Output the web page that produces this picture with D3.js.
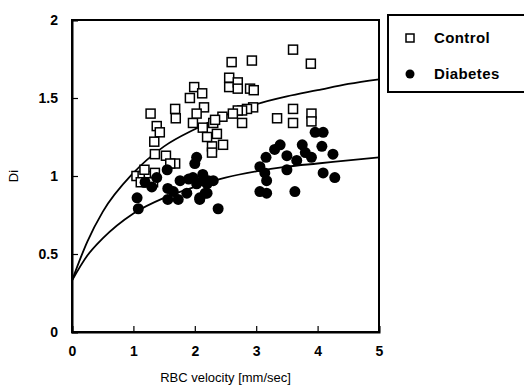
<!DOCTYPE html>
<html>
<head>
<meta charset="utf-8">
<script src="https://cdn.jsdelivr.net/npm/d3@7"></script>
<style>
  body { margin: 0; background: #fff; }
  svg { font-family: "Liberation Sans", Arial, sans-serif; }
</style>
</head>
<body>
<div id="chart"></div>
<script>
// control group: [RBC velocity, Di]
const controlPoints = [
  [2.6, 1.73], [2.56, 1.63], [2.56, 1.57], [1.99, 1.57], [2.12, 1.53], [1.92, 1.5],
  [2.15, 1.44], [1.68, 1.43], [1.28, 1.4], [1.69, 1.37], [1.38, 1.32], [1.43, 1.28],
  [1.34, 1.22], [1.35, 1.14], [1.53, 1.13], [1.68, 1.08], [1.97, 1.34], [2.13, 1.31],
  [2.3, 1.34], [2.36, 1.27], [2.46, 1.2], [2.28, 1.19], [2.28, 1.15], [2.2, 1.25],
  [2.03, 1.4], [3.6, 1.81], [3.89, 1.72], [2.93, 1.74], [2.7, 1.6], [2.7, 1.56],
  [2.9, 1.56], [2.96, 1.55], [3.34, 1.37], [3.6, 1.43], [3.6, 1.34], [3.9, 1.4],
  [3.9, 1.35], [2.77, 1.34], [2.95, 1.44], [2.85, 1.43], [2.77, 1.42], [2.7, 1.42],
  [2.62, 1.4], [2.45, 1.38], [2.33, 1.36], [1.05, 1.0], [1.15, 1.0], [1.25, 1.0],
  [1.12, 0.96], [1.22, 0.96], [1.32, 0.96], [1.18, 1.04], [1.35, 1.02], [1.6, 1.08]
];

// diabetes group
const diabetesPoints = [
  [3.96, 1.28], [4.09, 1.28], [3.39, 1.2], [3.75, 1.2], [4.07, 1.19], [3.16, 1.12],
  [3.5, 1.13], [3.9, 1.12], [4.25, 1.14], [3.66, 1.1], [3.06, 1.06], [3.5, 1.04],
  [3.14, 1.02], [4.09, 1.02], [4.28, 0.99], [3.17, 0.97], [3.06, 0.9], [3.17, 0.89],
  [3.63, 0.9], [2.38, 0.79], [2.13, 0.97], [2.17, 0.89], [2.08, 0.86], [2.22, 0.97],
  [1.06, 0.86], [1.08, 0.79], [1.19, 0.96], [1.38, 0.99], [1.55, 1.04], [1.56, 0.92],
  [1.56, 0.85], [1.73, 0.85], [1.76, 0.97], [1.87, 0.89], [1.97, 0.99], [2.03, 0.95],
  [2.13, 1.01], [2.2, 0.95], [2.3, 0.97], [2.03, 1.12], [2.0, 1.08], [2.08, 0.85],
  [2.2, 0.89], [1.3, 0.93], [1.65, 0.9], [1.9, 0.98], [3.3, 1.17], [3.8, 1.15]
];

// fitted curves
const controlCurve = [
  [0, 0.33], [0.25, 0.58], [0.5, 0.77], [1, 1.02], [1.5, 1.19], [2, 1.3],
  [2.5, 1.39], [3, 1.46], [3.5, 1.51], [4, 1.55], [4.5, 1.59], [5, 1.62]
];
const diabetesCurve = [
  [0, 0.33], [0.25, 0.49], [0.5, 0.6], [1, 0.76], [1.5, 0.86], [2, 0.93],
  [2.5, 0.99], [3, 1.03], [3.5, 1.06], [4, 1.08], [4.5, 1.1], [5, 1.12]
];

const xTicks = [0, 1, 2, 3, 4, 5];
const yTicks = [0, 0.5, 1, 1.5, 2];
const legendItems = ['Control', 'Diabetes'];

const width = 524;
const height = 390;
const margin = { top: 20, right: 145, bottom: 58, left: 72 };

const svg = d3.select('#chart').append('svg').attr('width', width).attr('height', height);

const x = d3.scaleLinear().domain([0, 5]).range([margin.left, width - margin.right]);
const y = d3.scaleLinear().domain([0, 2]).range([height - margin.bottom, margin.top]);

// frame
svg.append('rect')
  .attr('x', x(0)).attr('y', y(2))
  .attr('width', x(5) - x(0)).attr('height', y(0) - y(2))
  .attr('fill', 'none').attr('stroke', '#000').attr('stroke-width', 2);

// axes (ticks inward)
const xAxis = svg.append('g')
  .attr('transform', 'translate(0,' + y(0) + ')')
  .call(d3.axisBottom(x).tickValues(xTicks).tickSize(-6).tickPadding(14).tickFormat(d3.format('d')));
const yAxis = svg.append('g')
  .attr('transform', 'translate(' + x(0) + ',0)')
  .call(d3.axisLeft(y).tickValues(yTicks).tickSize(-6).tickPadding(14).tickFormat((d) => String(d)));

[xAxis, yAxis].forEach((g) => {
  g.select('.domain').attr('stroke', '#000').attr('stroke-width', 2);
  g.selectAll('.tick line').attr('stroke', '#000').attr('stroke-width', 1.2);
  g.selectAll('.tick text')
    .attr('fill', '#000')
    .style('font-size', '14px')
    .style('font-weight', 'bold');
});

// axis titles
svg.append('text')
  .attr('x', (x(0) + x(5)) / 2).attr('y', 382)
  .attr('text-anchor', 'middle')
  .style('font-size', '13px')
  .text('RBC velocity [mm/sec]');

svg.append('text')
  .attr('transform', 'translate(18,' + y(1) + ') rotate(-90)')
  .attr('text-anchor', 'middle')
  .style('font-size', '13px')
  .text('Di');

// fitted lines
const line = d3.line().x((d) => x(d[0])).y((d) => y(d[1])).curve(d3.curveMonotoneX);
[controlCurve, diabetesCurve].forEach((c) => {
  svg.append('path')
    .datum(c)
    .attr('d', line)
    .attr('fill', 'none')
    .attr('stroke', '#000')
    .attr('stroke-width', 1.8);
});

// control squares
const sq = 9;
svg.append('g')
  .selectAll('rect')
  .data(controlPoints)
  .enter()
  .append('rect')
  .attr('x', (d) => x(d[0]) - sq / 2)
  .attr('y', (d) => y(d[1]) - sq / 2)
  .attr('width', sq)
  .attr('height', sq)
  .attr('fill', '#fff')
  .attr('stroke', '#000')
  .attr('stroke-width', 1.5);

// diabetes dots
svg.append('g')
  .selectAll('circle')
  .data(diabetesPoints)
  .enter()
  .append('circle')
  .attr('cx', (d) => x(d[0]))
  .attr('cy', (d) => y(d[1]))
  .attr('r', 5.5)
  .attr('fill', '#000');

// legend
const legend = svg.append('g');
legend.append('rect')
  .attr('x', 388).attr('y', 15)
  .attr('width', 140).attr('height', 77)
  .attr('fill', '#fff').attr('stroke', '#000').attr('stroke-width', 2);

legend.selectAll('text')
  .data(legendItems)
  .enter()
  .append('text')
  .attr('x', 434)
  .attr('y', (d, i) => 38 + i * 36)
  .attr('dy', '0.35em')
  .style('font-size', '15px')
  .style('font-weight', 'bold')
  .style('letter-spacing', '0.4px')
  .text((d) => d);

legend.append('rect')
  .attr('x', 406).attr('y', 34)
  .attr('width', 8).attr('height', 8)
  .attr('fill', '#fff').attr('stroke', '#000').attr('stroke-width', 1.5);
legend.append('circle')
  .attr('cx', 410).attr('cy', 74).attr('r', 4.5)
  .attr('fill', '#000');
</script>
</body>
</html>
